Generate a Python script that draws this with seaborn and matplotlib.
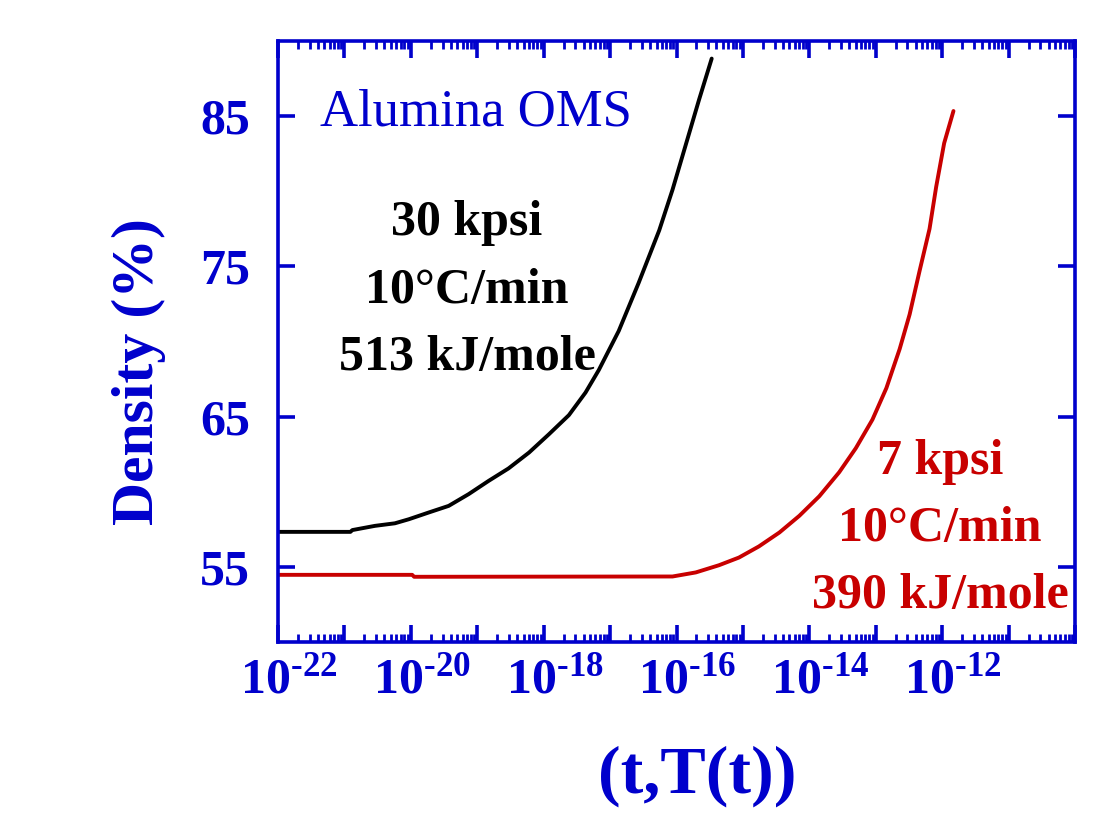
import numpy as np
import pandas as pd
import matplotlib
matplotlib.use("Agg")
import matplotlib.pyplot as plt
import matplotlib.ticker as mticker
from matplotlib.transforms import ScaledTranslation
import seaborn as sns

# ---- data ----
log_t_30kpsi = [-22.0, -20.91, -20.88, -20.54, -20.24, -20.03, -19.73, -19.43, -19.13,
                -18.83, -18.53, -18.22, -17.92, -17.62, -17.37, -17.17, -16.87,
                -16.57, -16.26, -16.06, -15.86, -15.66, -15.47]
dens_30kpsi = [57.33, 57.33, 57.45, 57.73, 57.90, 58.17, 58.62, 59.06, 59.84,
               60.72, 61.55, 62.61, 63.83, 65.10, 66.60, 68.10, 70.70,
               73.90, 77.40, 80.10, 83.10, 86.10, 88.83]

log_t_7kpsi = [-22.0, -19.98, -19.95, -16.06, -15.71, -15.36, -15.06, -14.76, -14.45,
               -14.15, -13.85, -13.55, -13.30, -13.05, -12.84, -12.64, -12.49,
               -12.34, -12.19, -12.09, -11.97, -11.83]
dens_7kpsi = [54.47, 54.47, 54.34, 54.36, 54.63, 55.11, 55.62, 56.36, 57.29,
              58.40, 59.70, 61.30, 62.90, 64.80, 66.90, 69.50, 71.80,
              74.70, 77.50, 80.30, 83.20, 85.34]

y_ticks = [55, 65, 75, 85]
x_major_exp = list(range(-22, -9))
x_label_exp = [-22, -20, -18, -16, -14, -12]

label_30 = ["30 kpsi", "10°C/min", "513 kJ/mole"]
label_7 = ["7 kpsi", "10°C/min", "390 kJ/mole"]
title_text = "Alumina OMS"

BLUE = "#0000CC"
RED = "#C80000"

sns.set_style("ticks")
plt.rcParams["font.family"] = ["Liberation Serif", "DejaVu Serif"]
plt.rcParams["mathtext.fontset"] = "custom"
plt.rcParams["mathtext.rm"] = "Liberation Serif:bold"
plt.rcParams["mathtext.bf"] = "Liberation Serif:bold"
plt.rcParams["mathtext.it"] = "Liberation Serif:bold:italic"
plt.rcParams["axes.unicode_minus"] = False

fig = plt.figure(figsize=(11.09, 8.31), dpi=100)
ax = fig.add_axes([278 / 1109, 1 - 642 / 831, 797 / 1109, 601 / 831])

df30 = pd.DataFrame({"t": 10.0 ** np.array(log_t_30kpsi), "d": dens_30kpsi})
df7 = pd.DataFrame({"t": 10.0 ** np.array(log_t_7kpsi), "d": dens_7kpsi})
sns.lineplot(data=df30, x="t", y="d", ax=ax, color="black", linewidth=2.8, sort=False)
sns.lineplot(data=df7, x="t", y="d", ax=ax, color=RED, linewidth=2.8, sort=False)

ax.set_xscale("log")
ax.set_xlim(1e-22, 1e-10)
ax.set_ylim(50, 90)

ax.xaxis.set_major_locator(mticker.FixedLocator([10.0 ** e for e in x_major_exp]))
ax.xaxis.set_minor_locator(mticker.LogLocator(base=10, subs=np.arange(2, 10), numticks=100))


def xfmt(v, pos):
    e = int(round(np.log10(v)))
    if e in x_label_exp:
        return r"$10^{\text{-}%d}$" % (-e)
    return ""


ax.xaxis.set_major_formatter(mticker.FuncFormatter(xfmt))
ax.xaxis.set_minor_formatter(mticker.NullFormatter())
ax.set_yticks(y_ticks)
ax.yaxis.set_minor_locator(mticker.NullLocator())

for sp in ax.spines.values():
    sp.set_color(BLUE)
    sp.set_linewidth(2.6)

ax.tick_params(axis="both", which="major", direction="in", length=12, width=2.6,
               color=BLUE, top=True, right=True, labelcolor=BLUE)
ax.tick_params(axis="both", which="minor", direction="in", length=6, width=2.0,
               color=BLUE, top=True, right=True)
ax.tick_params(axis="y", which="major", pad=20, labelsize=36)
ax.tick_params(axis="x", which="major", pad=11, labelsize=36)
for lab in ax.get_yticklabels():
    lab.set_fontweight("bold")
shift = ScaledTranslation(11 / 100, 0, fig.dpi_scale_trans)
for lab in ax.get_xticklabels():
    lab.set_transform(lab.get_transform() + shift)

ax.set_xlabel("(t,T(t))", fontsize=49, fontweight="bold", color=BLUE)
ax.set_ylabel("Density (%)", fontsize=43, fontweight="bold", color=BLUE)
ax.xaxis.set_label_coords((697 - 278) / 797, (642 - 745) / 601)
ax.yaxis.set_label_coords((166 - 278) / 797, (642 - 372) / 601)


def ax_y(ypx):
    return (642 - ypx) / 601


def ax_x(xpx):
    return (xpx - 278) / 797


ax.text(ax_x(320), ax_y(125), title_text, transform=ax.transAxes, fontsize=38,
        color=BLUE, ha="left", va="baseline")

for txt, base in zip(label_30, [235, 303, 370]):
    ax.text(ax_x(467), ax_y(base), txt, transform=ax.transAxes, fontsize=36,
            fontweight="bold", color="black", ha="center", va="baseline")
for txt, base in zip(label_7, [474, 541, 608]):
    ax.text(ax_x(940), ax_y(base), txt, transform=ax.transAxes, fontsize=36,
            fontweight="bold", color=RED, ha="center", va="baseline")

fig.savefig("out.png", dpi=100)
